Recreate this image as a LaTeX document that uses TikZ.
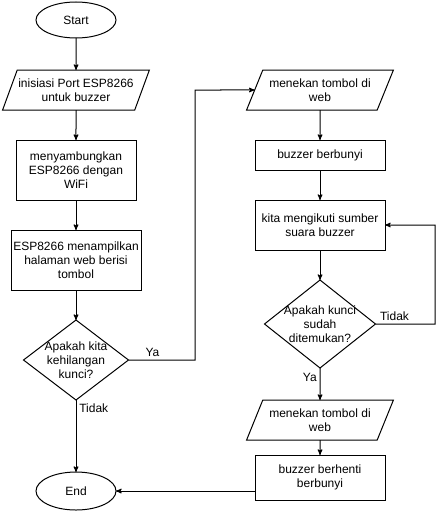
\documentclass[tikz,border=0pt]{standalone}
\usepackage{fontspec}
\setmainfont{Liberation Sans}
\usetikzlibrary{arrows,shapes.geometric,positioning}

\begin{document}
\begin{tikzpicture}[->,>=stealth',line width=1pt,x=1pt,y=-1pt,
                    font=\fontsize{12}{14}\selectfont]
  \tikzstyle{every node}=[outer sep=0pt]
  \tikzstyle{terminal}=[ellipse,draw,minimum width=80pt,minimum height=36pt,inner sep=0pt]
  \tikzstyle{io}=[trapezium,trapezium left angle=64,trapezium right angle=116,
                  trapezium stretches=true,draw,align=center,
                  minimum width=147pt,minimum height=40pt,inner xsep=0pt]
  \tikzstyle{process}=[rectangle,draw,align=center,minimum width=130pt,inner sep=2pt]
  \tikzstyle{decision}=[diamond,draw,inner sep=0pt]
  \tikzstyle{every label}=[align=center]

  \useasboundingbox (0,0) rectangle (444,511);

  % left column
  \node[terminal] (start) at (76,20) {Start};
  \node[io]       (port)  [below=32pt of start] {inisiasi Port ESP8266\\untuk buzzer};
  \node[process,minimum width=120pt,minimum height=60pt] (wifi) [below=30pt of port]
       {menyambungkan\\ESP8266 dengan\\WiFi};
  \node[process,minimum height=60pt] (web) [below=30pt of wifi]
       {ESP8266 menampilkan\\halaman web berisi\\tombol};
  \node[decision,minimum width=105pt,minimum height=80pt,
        label={center:Apakah kita\\kehilangan\\kunci?}] (hilang) [below=30pt of web] {};
  \node[terminal,minimum height=38pt] (end) [below=72pt of hilang] {End};

  % right column
  \node[io]       (tekan) at (320,90) {menekan tombol di\\web};
  \node[process,minimum height=30pt] (bunyi) [below=30pt of tekan] {buzzer berbunyi};
  \node[process,minimum height=50pt] (ikuti) [below=30pt of bunyi]
       {kita mengikuti sumber\\suara buzzer};
  \node[decision,minimum width=111pt,minimum height=88pt,
        label={center:Apakah kunci\\sudah\\ditemukan?}] (temu) [below=30pt of ikuti] {};
  \node[io]       (tekan2) [below=32pt of temu] {menekan tombol di\\web};
  \node[process,minimum height=45pt] (henti) [below=15pt of tekan2]
       {buzzer berhenti\\berbunyi};

  \coordinate (ya) at (195,90);
  \coordinate (cari) at (435,225);

  \path (start) edge (port)
        (port) edge (wifi)
        (wifi) edge (web)
        (web) edge (hilang)
        (hilang) edge node[pos=0.12,right] {Tidak} (end)
        (tekan) edge (bunyi)
        (bunyi) edge (ikuti)
        (ikuti) edge (temu)
        (temu) edge node[pos=0.3,left] {Ya} (tekan2)
        (tekan2) edge (henti);
  \draw (hilang.east) -| node[pos=0.18,above] {Ya} (ya) -- (tekan.west);
  \draw (temu.east) -| node[pos=0.16,above] {Tidak} (cari) -- (ikuti.east);
  \draw (end -| henti.west) -- (end);
\end{tikzpicture}
\end{document}
